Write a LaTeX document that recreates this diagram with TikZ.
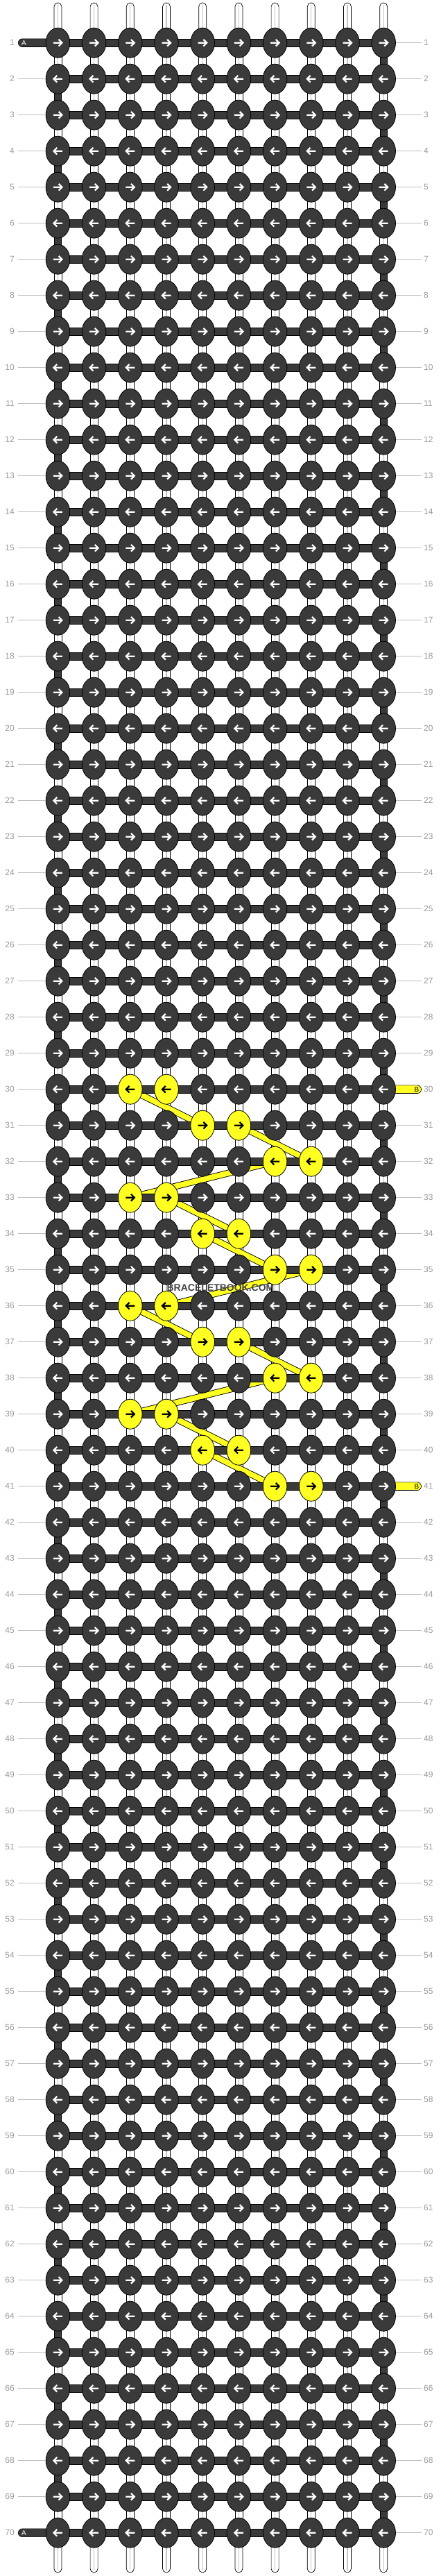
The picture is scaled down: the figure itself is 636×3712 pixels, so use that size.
\documentclass[tikz,border=0pt]{standalone}
\usepackage{fontspec}
\setmainfont{Liberation Sans}
\usetikzlibrary{shapes.geometric}
\definecolor{kdark}{HTML}{3A3A3A}
\definecolor{kyel}{HTML}{FFFF22}
\definecolor{lblc}{HTML}{9A9A9A}
\definecolor{linec}{HTML}{BEBEBE}
\definecolor{midc}{HTML}{C4C4C4}
\definecolor{wmc}{HTML}{454545}
\begin{document}
\begin{tikzpicture}[x=1pt,y=-1pt,
  knot/.style={ellipse, draw=black, line width=0.8pt, minimum width=34.6pt, minimum height=43pt, inner sep=0pt},
  vwhite/.style={fill=white, draw=black, line width=0.7pt},
  vdark/.style={fill=kdark, draw=black, line width=0.7pt},
  midline/.style={draw=midc, line width=1.3pt},
  hbar/.style={fill=kdark, draw=black, line width=0.6pt},
  bandout/.style={draw=black, line width=9.6pt},
  bandin/.style={draw=kyel, line width=7.8pt},
  arr/.style={line width=2.2pt},
  lbl/.style={text=lblc, font=\fontsize{12}{12}\selectfont, inner sep=0pt},
  lblline/.style={draw=linec, line width=0.9pt},
  tlabel/.style={font=\fontsize{10}{10}\selectfont, inner sep=0pt}
]
\useasboundingbox (0,0) rectangle (636,3712);
\fill[white] (0,0) rectangle (636,3712);

% grid coordinates
\foreach \j in {1,...,70}{
  \foreach \i in {1,...,10}{
    \coordinate (c-\i-\j) at ({83.4+52.2*(\i-1)},{61.7+52*(\j-1)});
  }
}

% top and bottom strands
\foreach \i in {1,...,10}{
  \coordinate (t-\i) at ({83.4+52.2*(\i-1)},4);
  \coordinate (b-\i) at ({83.4+52.2*(\i-1)},3707);
  \draw[vwhite, rounded corners=5.5pt] ([xshift=-5.5pt]t-\i) rectangle ([xshift=5.5pt]c-\i-1);
  \draw[midline] ([yshift=-3pt]t-\i) -- (c-\i-1);
  \draw[vwhite, rounded corners=5.5pt] ([xshift=-5.5pt]c-\i-70) rectangle ([xshift=5.5pt]b-\i);
  \draw[midline] (c-\i-70) -- ([yshift=3pt]b-\i);
}

% vertical connectors between rows
\foreach \j in {1,...,69}{
  \pgfmathtruncatemacro{\jn}{\j+1}
  \ifodd\j \def\de{10}\else \def\de{1}\fi
  \foreach \i in {1,...,10}{
    \ifnum\i=\de\relax
      \draw[vdark] ([xshift=-5pt]c-\i-\j) rectangle ([xshift=5pt]c-\i-\jn);
    \else
      \draw[vwhite] ([xshift=-5.5pt]c-\i-\j) rectangle ([xshift=5.5pt]c-\i-\jn);
      \draw[midline] (c-\i-\j) -- (c-\i-\jn);
    \fi
  }
}

% yellow thread bands
\foreach \a/\b in {3-30/5-31, 6-31/8-32, 7-32/3-33, 4-33/6-34, 5-34/7-35, 8-35/4-36, 3-36/5-37, 6-37/8-38, 7-38/3-39, 4-39/6-40, 5-40/7-41}{
  \draw[bandout] (c-\a) -- (c-\b);
}
\foreach \a/\b in {3-30/5-31, 6-31/8-32, 7-32/3-33, 4-33/6-34, 5-34/7-35, 8-35/4-36, 3-36/5-37, 6-37/8-38, 7-38/3-39, 4-39/6-40, 5-40/7-41}{
  \draw[bandin] (c-\a) -- (c-\b);
}

% thread A (left, rows 1 and 70)
\foreach \j in {1,70}{
  \coordinate (a-\j) at (26.3,{61.7+52*(\j-1)});
  \draw[hbar, rounded corners=5.85pt] ([yshift=5.85pt]a-\j) rectangle ([yshift=-5.85pt]c-1-\j);
}
% thread B (right, rows 30 and 41)
\foreach \j in {30,41}{
  \coordinate (bt-\j) at (607.5,{61.7+52*(\j-1)});
  \draw[fill=kyel, draw=black, line width=0.7pt, rounded corners=5.85pt] ([yshift=5.85pt]c-10-\j) rectangle ([yshift=-5.85pt]bt-\j);
}

% horizontal bars
\foreach \j in {1,...,70}{
  \draw[hbar] ([yshift=5.85pt]c-1-\j) rectangle ([yshift=-5.85pt]c-10-\j);
}

% yellow knot list
\foreach \p in {3-30,4-30,5-31,6-31,7-32,8-32,3-33,4-33,5-34,6-34,7-35,8-35,3-36,4-36,5-37,6-37,7-38,8-38,3-39,4-39,5-40,6-40,7-41,8-41}{
  \expandafter\gdef\csname kyel@\p\endcsname{}
}

% knots
\foreach \j in {1,...,70}{
  \foreach \i in {1,...,10}{
    \ifcsname kyel@\i-\j\endcsname
      \node[knot, fill=kyel] (k-\i-\j) at (c-\i-\j) {};
      \def\ac{black}
    \else
      \node[knot, fill=kdark] (k-\i-\j) at (c-\i-\j) {};
      \def\ac{white}
    \fi
    \ifodd\j
      \draw[arr, draw=\ac, shift={(c-\i-\j)}] (-6.5,0) -- (5.5,0) (1.2,-4.8) -- (6,0) -- (1.2,4.8);
    \else
      \draw[arr, draw=\ac, shift={(c-\i-\j)}] (6.5,0) -- (-5.5,0) (-1.2,-4.8) -- (-6,0) -- (-1.2,4.8);
    \fi
  }
}

% row labels and guide lines
\foreach \j in {1,...,70}{
  \node[lbl, anchor=east] (ll-\j) at (21,{61.7+52*(\j-1)}) {\j};
  \node[lbl, anchor=west] (rl-\j) at (611,{61.7+52*(\j-1)}) {\j};
  \ifnum\j=1 \else\ifnum\j=70 \else
    \draw[lblline] ([xshift=5.3pt]ll-\j.east) -- (k-1-\j.west);
  \fi\fi
  \ifnum\j=30 \else\ifnum\j=41 \else
    \draw[lblline] (k-10-\j.east) -- ([xshift=-3.5pt]rl-\j.west);
  \fi\fi
}

% thread letters
\node[tlabel, text=white] (atx-1) at (34.5,61.7) {A};
\node[tlabel, text=white] (atx-70) at (34.5,3649.7) {A};
\node[tlabel, text=black] (btx-30) at (601,1569.7) {B};
\node[tlabel, text=black] (btx-41) at (601,2141.7) {B};

% watermark
\node[font=\bfseries\fontsize{14}{14}\selectfont, text=wmc, inner sep=0pt] (wm) at (318,1856) {BRACELETBOOK.COM};
\end{tikzpicture}
\end{document}
